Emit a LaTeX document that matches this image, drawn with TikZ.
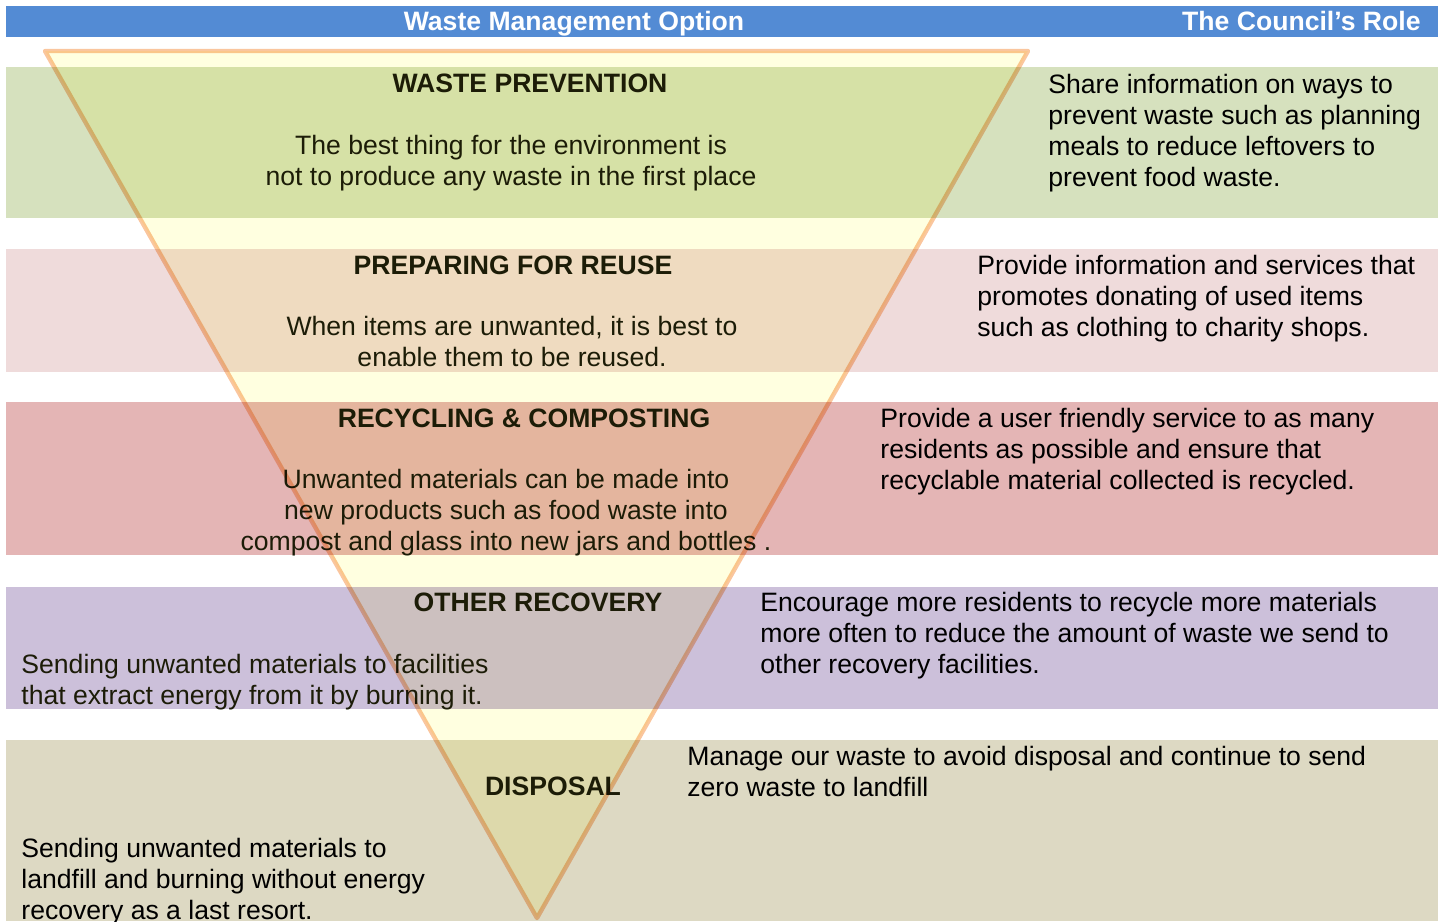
\documentclass[tikz,border=0pt]{standalone}
\usepackage{fontspec}
\setmainfont{Liberation Sans}
\usetikzlibrary{positioning}

\definecolor{headblue}{RGB}{83,139,212}
\definecolor{bandgreen}{RGB}{214,225,190}
\definecolor{bandrose}{RGB}{239,219,219}
\definecolor{bandred}{RGB}{228,181,181}
\definecolor{bandlilac}{RGB}{204,192,218}
\definecolor{bandtan}{RGB}{221,217,195}
\definecolor{funnelfill}{RGB}{255,255,224}
\definecolor{funneledge}{RGB}{250,198,158}
\definecolor{inktext}{RGB}{28,28,8}

\begin{document}
\begin{tikzpicture}[
  x=0.5pt, y=-0.5pt,
  txt/.style={font=\fontsize{13.3}{15.4}\selectfont, inner sep=0pt},
  header/.style={txt, font=\bfseries\fontsize{13.3}{15.4}\selectfont, text=white, anchor=base},
  title/.style={txt, font=\bfseries\fontsize{13.3}{15.4}\selectfont, text=inktext, anchor=base},
  body/.style={txt, align=center, text=inktext, anchor=base},
  role/.style={txt, align=left, anchor=base west},
  funnel/.style={fill=funnelfill, draw=funneledge, line width=2.2pt, line join=round}
]
\useasboundingbox (0,0) rectangle (1445,921);

% header bar
\fill[headblue] (6,6) rectangle (1438,37);
\node[header] (option) at (574,31) {Waste Management Option};
\node[header, anchor=base east] (council) at (1421,31) {The Council’s Role};

% coloured bands, one per level
\fill[bandgreen] (6,67) rectangle (1438,218);
\fill[bandrose]  (6,249) rectangle (1438,372);
\fill[bandred]   (6,402) rectangle (1438,555);
\fill[bandlilac] (6,587) rectangle (1438,709);
\fill[bandtan]   (6,740) rectangle (1438,921);

% prevention (multi-line nodes sit on their last baseline)
\node[title] (prevent) at (530,92) {WASTE PREVENTION};
\node[body] (preventtxt) at (511,185) {The best thing for the environment is\\not to produce any waste in the first place};
\node[role] (preventrole) at (1048,186) {Share information on ways to\\prevent waste such as planning\\meals to reduce leftovers to\\prevent food waste.};

% reuse
\node[title] (reuse) at (513,274) {PREPARING FOR REUSE};
\node[body] (reusetxt) at (512,366) {When items are unwanted, it is best to\\enable them to be reused.};
\node[role] (reuserole) at (977,336) {Provide information and services that\\promotes donating of used items\\such as clothing to charity shops.};

% recycling
\node[title] (recycle) at (524,427) {RECYCLING \& COMPOSTING};
\node[body] (recycletxt) at (506,550) {Unwanted materials can be made into\\new products such as food waste into\\compost and glass into new jars and bottles .};
\node[role] (recyclerole) at (880,489) {Provide a user friendly service to as many\\residents as possible and ensure that\\recyclable material collected is recycled.};

% other recovery
\node[title] (recover) at (538,611) {OTHER RECOVERY};
\node[role, text=inktext] (recovertxt) at (21,704) {Sending unwanted materials to facilities\\that extract energy from it by burning it.};
\node[role] (recoverrole) at (760,673) {Encourage more residents to recycle more materials\\more often to reduce the amount of waste we send to\\other recovery facilities.};

% disposal
\node[title] (dispose) at (553,795) {DISPOSAL};
\node[role] (disposetxt) at (21,919) {Sending unwanted materials to\\landfill and burning without energy\\recovery as a last resort.};
\node[role] (disposerole) at (687,796) {Manage our waste to avoid disposal and continue to send\\zero waste to landfill};

% the hierarchy triangle, laid over everything
\begin{scope}[blend mode=multiply]
  \draw[funnel] (45,51) -- (1028,51) -- (537,918) -- cycle;
\end{scope}
\end{tikzpicture}
\end{document}
